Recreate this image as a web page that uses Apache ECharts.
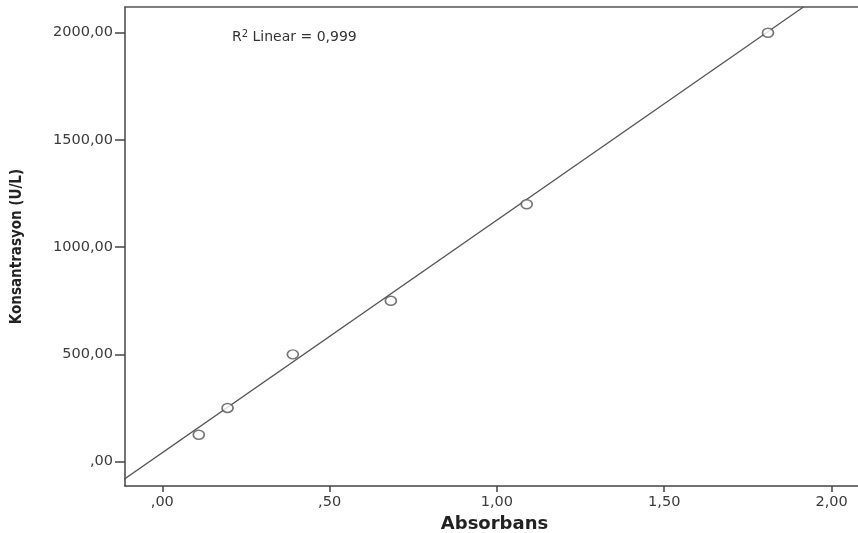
<!DOCTYPE html>
<html>
<head>
<meta charset="utf-8">
<script src="https://cdn.jsdelivr.net/npm/echarts@6/dist/echarts.min.js"></script>
<style>
  html, body { margin: 0; padding: 0; background: #fff; }
  #chart { width: 858px; height: 533px; }
</style>
</head>
<body>
<div id="chart"></div>
<script>
// measured points (absorbans, konsantrasyon)
const absorbans     = [0.109, 0.195, 0.39, 0.683, 1.089, 1.81];
const konsantrasyon = [125, 250, 500, 750, 1200, 2000];
// fit line, read where it meets the frame
const fitX = [-0.115, 1.916];
const fitY = [-83, 2120];
const xTicks = [0, 0.5, 1, 1.5, 2];
const yTicks = [0, 500, 1000, 1500, 2000];
const r2Text = '0,999';

function trNum(v) {
    let s = v.toFixed(2).replace('.', ',');
    if (s.startsWith('0,')) s = s.slice(1);
    return s;
}

const points = absorbans.map((x, i) => [x, konsantrasyon[i]]);
const fitLine = fitX.map((x, i) => [x, fitY[i]]);

const chart = echarts.init(document.getElementById('chart'));
const axisCol = '#444';
const tickFont = { fontFamily: 'DejaVu Sans', fontSize: 14.5, color: '#3a3a3a' };

chart.setOption({
    animation: false,
    backgroundColor: '#fff',
    title: {
        left: 227, top: 24,
        text: '{a|R}{s|2}{a| Linear = ' + r2Text + '}',
        textStyle: {
            rich: {
                a: { fontFamily: 'DejaVu Sans', fontSize: 14, fontWeight: 'normal', color: '#333' },
                s: { fontFamily: 'DejaVu Sans', fontSize: 10, fontWeight: 'normal', color: '#333', verticalAlign: 'top', padding: [0, 0, 7, 0] }
            }
        }
    },
    grid: {
        left: 125, top: 7, right: -6, bottom: 47,
        outerBoundsMode: 'none',
        containLabel: false,
        show: false
    },
    xAxis: [{
        type: 'value',
        min: -0.1115, max: 2.097,
        name: 'Absorbans',
        nameLocation: 'middle',
        nameGap: 29,
        nameTextStyle: { fontFamily: 'DejaVu Sans', fontWeight: 'bold', fontSize: 18, color: '#222' },
        axisLine: { show: true, onZero: false, lineStyle: { color: axisCol, width: 1.5 } },
        axisTick: { show: true, length: 6, customValues: xTicks, lineStyle: { color: axisCol, width: 1.5 } },
        axisLabel: { ...tickFont, margin: 9, customValues: xTicks, formatter: trNum },
        splitLine: { show: false }
    }, {
        // top frame line only
        type: 'value',
        position: 'top',
        min: -0.1115, max: 2.097,
        axisLine: { show: true, onZero: false, lineStyle: { color: '#555', width: 1.5 } },
        axisTick: { show: false },
        axisLabel: { show: false },
        splitLine: { show: false }
    }],
    yAxis: {
        type: 'value',
        min: -114, max: 2120,
        name: 'Konsantrasyon (U/L)',
        nameLocation: 'middle',
        nameGap: 100,
        nameTextStyle: { fontFamily: 'DejaVu Sans Condensed', fontWeight: 'bold', fontSize: 15, color: '#222' },
        axisLine: { show: true, onZero: false, lineStyle: { color: axisCol, width: 1.5 } },
        axisTick: { show: true, length: 10, customValues: yTicks, lineStyle: { color: axisCol, width: 1.5 } },
        axisLabel: { ...tickFont, margin: 12, customValues: yTicks, formatter: trNum },
        splitLine: { show: false }
    },
    series: [
        {
            type: 'line',
            data: fitLine,
            symbol: 'none',
            clip: true,
            lineStyle: { color: '#555', width: 1.3 },
            z: 2
        },
        {
            type: 'scatter',
            data: points,
            symbol: 'circle',
            symbolSize: [11, 9],
            itemStyle: { color: '#fff', borderColor: '#555', borderWidth: 1.6 },
            z: 3
        }
    ]
});
</script>
</body>
</html>
